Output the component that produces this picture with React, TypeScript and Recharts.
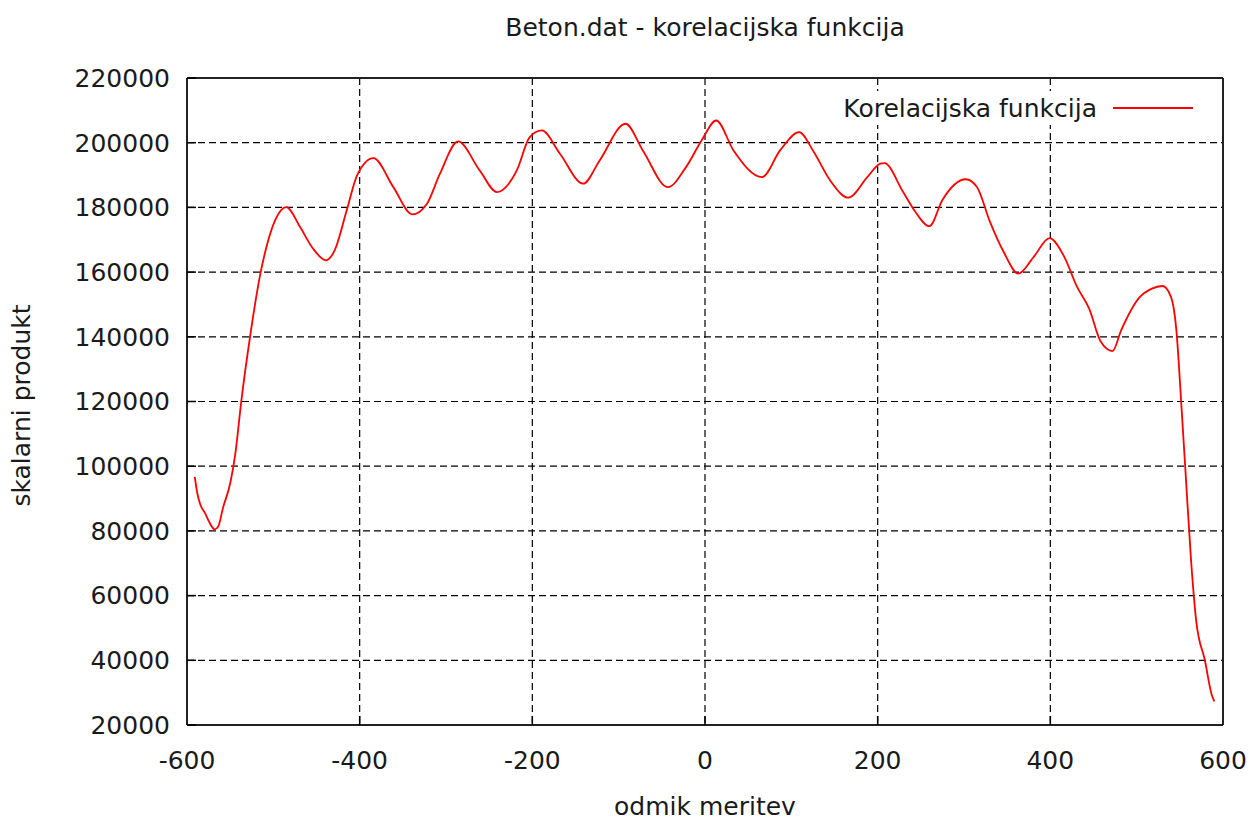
import {
  CartesianGrid,
  Label,
  Legend,
  Line,
  LineChart,
  XAxis,
  YAxis,
} from "recharts";

// odmik meritev (x) and skalarni produkt (y)
const offsets = [
  -591, -588, -585, -579, -571, -568, -564, -558, -550, -544, -537, -527, -515,
  -508, -498, -485, -469, -454, -439, -429, -415, -403, -384, -361, -339, -322,
  -307, -286, -261, -241, -218, -203, -189, -168, -141, -122, -92, -72, -43,
  -22, -4, 13, 33, 66, 87, 109, 125, 145, 166, 188, 203, 208, 229, 243, 260,
  275, 302, 315, 330, 346, 363, 381, 399, 416, 431, 445, 458, 472, 482, 503,
  517, 530, 540, 546, 552, 557, 563, 569, 579, 587, 590,
];
const products = [
  96700, 91560, 88470, 85400, 81250, 80450, 81250, 87430, 94650, 103920,
  120380, 139940, 159520, 167740, 175980, 180100, 173910, 167240, 163630,
  166720, 179090, 189890, 195230, 186270, 177840, 181140, 190410, 200390,
  191430, 184730, 191430, 201720, 203780, 196580, 187320, 194520, 205850,
  197610, 186270, 192450, 200690, 206870, 197610, 189360, 197610, 203260,
  197610, 188340, 183000, 189360, 193500, 193700, 185000, 178900, 174200,
  182300, 188700, 186300, 175600, 166200, 159500, 164800, 170500, 164800,
  155400, 148700, 138700, 135600, 142000, 152100, 154800, 155700, 152100,
  142000, 117900, 96400, 70900, 52100, 40000, 29300, 27300,
];

const xTicks = [-600, -400, -200, 0, 200, 400, 600];
const yTicks = [
  20000, 40000, 60000, 80000, 100000, 120000, 140000, 160000, 180000, 200000,
  220000,
];

const title = "Beton.dat - korelacijska funkcija";
const seriesName = "Korelacijska funkcija";
const xLabel = "odmik meritev";
const yLabel = "skalarni produkt";

const data = offsets.map((x, i) => ({ x, y: products[i] }));

const FONT = "'DejaVu Sans', sans-serif";
const FS = 25;
const INK = "#1a1a1a";
const tickFont = { fontSize: FS, fill: INK, fontFamily: FONT };

function YTitle({ viewBox }: any) {
  const cx = 30;
  const cy = viewBox.y + viewBox.height / 2 + 4;
  return (
    <text
      x={cx}
      y={cy}
      transform={`rotate(-90, ${cx}, ${cy})`}
      textAnchor="middle"
      fontSize={FS}
      fontFamily={FONT}
      fill={INK}
    >
      {yLabel}
    </text>
  );
}

function KeyBox() {
  return (
    <div
      style={{
        background: "#fff",
        height: 34,
        display: "flex",
        alignItems: "center",
        justifyContent: "flex-end",
        paddingRight: 7,
        fontFamily: FONT,
        fontSize: FS,
        color: INK,
        whiteSpace: "nowrap",
      }}
    >
      <span>{seriesName}</span>
      <svg width={96} height={10}>
        <line x1={16} x2={96} y1={5} y2={5} stroke="#ff0000" strokeWidth={2} />
      </svg>
    </div>
  );
}

export default function App() {
  return (
    <div style={{ position: "fixed", left: 0, top: 0, background: "#fff" }}>
      <LineChart
        width={1255}
        height={822}
        data={data}
        margin={{ top: 77, right: 31, bottom: 0, left: 0 }}
      >
        <CartesianGrid stroke="#000" strokeWidth={1.2} strokeDasharray="7 4" />
        <XAxis
          dataKey="x"
          type="number"
          domain={[-600, 600]}
          ticks={xTicks}
          height={97}
          tickSize={-9}
          tickMargin={35}
          tick={tickFont}
          stroke="#222"
          strokeWidth={2}
          tickLine={{ stroke: "#000", strokeWidth: 1.5 }}
        >
          <Label
            value={xLabel}
            position="insideBottom"
            offset={7}
            fontSize={FS}
            fontFamily={FONT}
            fill={INK}
          />
        </XAxis>
        <XAxis
          xAxisId="top"
          orientation="top"
          dataKey="x"
          type="number"
          domain={[-600, 600]}
          ticks={xTicks}
          height={1}
          tickSize={-9}
          tick={false}
          stroke="#222"
          strokeWidth={2}
          tickLine={{ stroke: "#000", strokeWidth: 1.5 }}
        >
          <Label
            value={title}
            position="top"
            offset={41}
            fontSize={FS}
            fontFamily={FONT}
            fill={INK}
          />
        </XAxis>
        <YAxis
          type="number"
          domain={[20000, 220000]}
          ticks={yTicks}
          width={187}
          tickSize={-9}
          tickMargin={26}
          tick={tickFont}
          stroke="#222"
          strokeWidth={2}
          tickLine={{ stroke: "#000", strokeWidth: 1.5 }}
          label={<YTitle />}
        />
        <YAxis
          yAxisId="right"
          orientation="right"
          type="number"
          domain={[20000, 220000]}
          ticks={yTicks}
          width={1}
          tickSize={-9}
          tick={false}
          stroke="#222"
          strokeWidth={2}
          tickLine={{ stroke: "#000", strokeWidth: 1.5 }}
        />
        <Legend
          layout="vertical"
          align="center"
          verticalAlign="middle"
          wrapperStyle={{ left: 835, top: 91, width: 365 }}
          content={<KeyBox />}
        />
        <Line
          dataKey="y"
          name={seriesName}
          type="monotone"
          stroke="#ff0000"
          strokeWidth={1.8}
          dot={false}
          isAnimationActive={false}
        />
      </LineChart>
    </div>
  );
}
